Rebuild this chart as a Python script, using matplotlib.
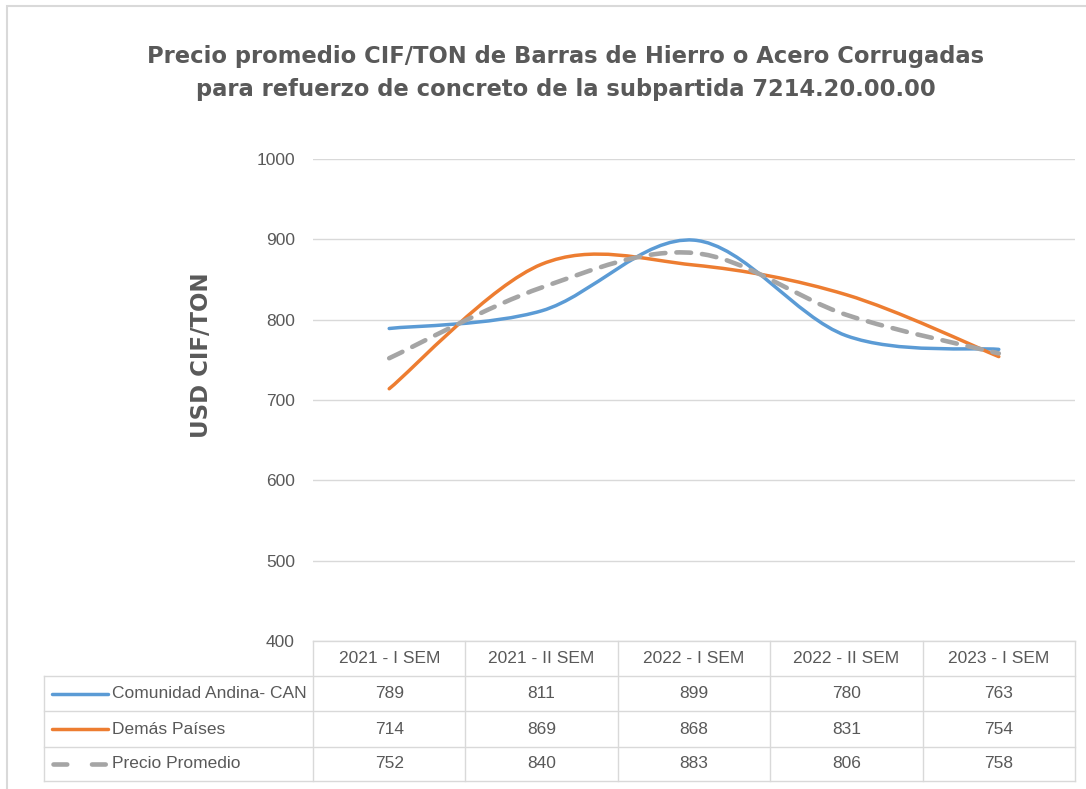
import numpy as np
import matplotlib
matplotlib.use("Agg")
import matplotlib.pyplot as plt
from matplotlib.path import Path
from matplotlib.patches import PathPatch, Rectangle
from matplotlib.lines import Line2D

periodos=["2021 - I SEM","2021 - II SEM","2022 - I SEM","2022 - II SEM","2023 - I SEM"]
can=[789,811,899,780,763]
demas=[714,869,868,831,754]
promedio=[752,840,883,806,758]
nombres=["Comunidad Andina- CAN","Demás Países","Precio Promedio"]
y_ticks=[400,500,600,700,800,900,1000]

titulo="Precio promedio CIF/TON de Barras de Hierro o Acero Corrugadas\npara refuerzo de concreto de la subpartida 7214.20.00.00"

text_color="#595959"
grid_color="#d9d9d9"
colores=["#5b9bd5","#ed7d31","#a5a5a5"]
narrow=["Liberation Sans Narrow","Liberation Sans","DejaVu Sans"]
fs=12.5

W,H=1086,789

def smooth_path(xs,ys):
    # bezier curves like excel's smoothed line
    pts=np.column_stack([xs,ys]).astype(float)
    n=len(pts)
    verts=[pts[0]]
    codes=[Path.MOVETO]
    for i in range(n-1):
        p0=pts[max(i-1,0)]
        p1=pts[i]
        p2=pts[i+1]
        p3=pts[min(i+2,n-1)]
        verts+=[p1+(p2-p0)/6,p2-(p3-p1)/6,p2]
        codes+=[Path.CURVE4]*3
    return Path(verts,codes)

fig=plt.figure(figsize=(W/100,H/100),dpi=100)

# chart border (only left and top are visible)
fig.patches.append(Rectangle((7/W,-0.5),1.2,1.5-6/H,transform=fig.transFigure,fill=False,edgecolor="#d9d9d9",linewidth=1.5))

ax_left,ax_right,ax_top,ax_bottom=313,1075,159,641
ax=fig.add_axes([ax_left/W,1-ax_bottom/H,(ax_right-ax_left)/W,(ax_bottom-ax_top)/H])

x=np.arange(len(periodos))
ax.set_xlim(-0.5,len(periodos)-0.5)
ax.set_ylim(400,1000)
ax.set_yticks(y_ticks)
ax.set_yticklabels([str(v) for v in y_ticks],family=narrow,fontsize=fs,color=text_color)
ax.tick_params(axis="y",length=0,pad=13)
ax.set_xticks([])
for s in ax.spines.values():
    s.set_visible(False)
ax.grid(axis="y",color=grid_color,linewidth=1)
ax.set_axisbelow(True)

dash_style=(0,(3.2,2.4))
series=[can,demas,promedio]
for i,(vals,col) in enumerate(zip(series,colores)):
    if i==2:
        patch=PathPatch(smooth_path(x,vals),fill=False,edgecolor=col,linewidth=3.3,linestyle=dash_style,capstyle="round")
    else:
        patch=PathPatch(smooth_path(x,vals),fill=False,edgecolor=col,linewidth=2.5,capstyle="round")
    ax.add_patch(patch)

fig.text(566/W,1-73/H,titulo,ha="center",va="center",family="DejaVu Sans",fontsize=16.3,fontweight="bold",color=text_color,linespacing=1.55)
fig.text(202/W,1-355/H,"USD CIF/TON",rotation=90,ha="center",va="center",family="DejaVu Sans",fontsize=16.5,fontweight="bold",color=text_color)

# data table under the axis
tr=ax.get_xaxis_transform()
ax_h=ax_bottom-ax_top
def ya(ypx):
    return (ax_bottom-ypx)/ax_h
col_w=(ax_right-ax_left)/len(periodos)
def xd(xpx):
    return -0.5+(xpx-ax_left)/col_w

rows_px=[641,676,711,747,781]
x_label_left=xd(44)
x_end=len(periodos)-0.5

lines=[]
lines.append(([-0.5,x_end],[ya(rows_px[0])]*2))
for r in rows_px[1:]:
    lines.append(([x_label_left,x_end],[ya(r)]*2))
lines.append(([x_label_left,x_label_left],[ya(rows_px[1]),ya(rows_px[-1])]))
for k in range(len(periodos)+1):
    lines.append(([k-0.5,k-0.5],[ya(rows_px[0]),ya(rows_px[-1])]))
for xs,ys in lines:
    ax.add_line(Line2D(xs,ys,transform=tr,color=grid_color,linewidth=1,clip_on=False))

for k,p in enumerate(periodos):
    ax.text(k,ya((rows_px[0]+rows_px[1])/2),p,transform=tr,ha="center",va="center",family=narrow,fontsize=fs,color=text_color,clip_on=False)

for i,(vals,nombre,col) in enumerate(zip(series,nombres,colores)):
    yc=ya((rows_px[i+1]+rows_px[i+2])/2)
    for k,v in enumerate(vals):
        ax.text(k,yc,str(v),transform=tr,ha="center",va="center",family=narrow,fontsize=fs,color=text_color,clip_on=False)
    if i==2:
        key=Line2D([xd(53),xd(107)],[yc,yc],transform=tr,color=col,linewidth=3.3,linestyle=(0,(3.0,5.4)),dash_capstyle="round",clip_on=False)
    else:
        key=Line2D([xd(52),xd(108)],[yc,yc],transform=tr,color=col,linewidth=2.5,solid_capstyle="round",clip_on=False)
    ax.add_line(key)
    ax.text(xd(112),yc,nombre,transform=tr,ha="left",va="center",family=narrow,fontsize=fs,color=text_color,clip_on=False)

fig.savefig("out.png",dpi=100)
